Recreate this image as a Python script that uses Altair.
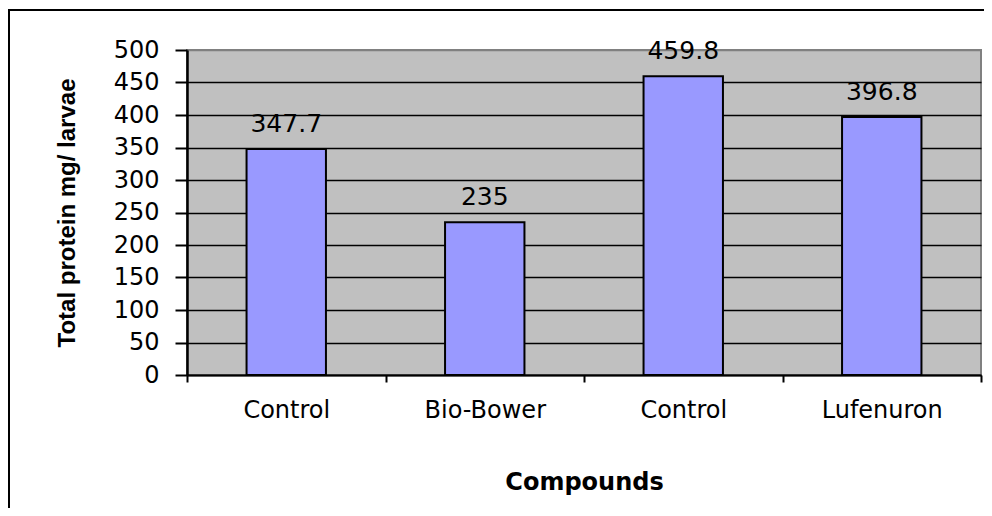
import altair as alt
import pandas as pd

categories = ["Control", "Bio-Bower", "Control", "Lufenuron"]
values = [347.7, 235, 459.8, 396.8]
value_labels = ["347.7", "235", "459.8", "396.8"]
y_ticks = [0, 50, 100, 150, 200, 250, 300, 350, 400, 450, 500]

df = pd.DataFrame({
    "idx": list(range(len(categories))),
    "cat": categories,
    "val": values,
    "lab": value_labels,
})

label_expr = "[" + ",".join("'" + c + "'" for c in categories) + "][datum.value]"

x_enc = alt.X(
    "idx:O",
    scale=alt.Scale(paddingInner=0, paddingOuter=0),
    axis=alt.Axis(
        title="Compounds",
        labelExpr=label_expr,
        labelAngle=0,
        labelFont="DejaVu Sans",
        labelFontSize=24,
        labelColor="black",
        labelPadding=16,
        tickBand="extent",
        tickSize=7,
        tickWidth=2,
        tickColor="black",
        domainColor="black",
        domainWidth=2,
        grid=False,
        titleFont="DejaVu Sans",
        titleFontWeight="bold",
        titleFontSize=24,
        titleColor="black",
        titleX=397,
        titleY=107,
        titleBaseline="middle",
        titleAlign="center",
    ),
)

y_enc = alt.Y(
    "val:Q",
    scale=alt.Scale(domain=[0, 500], nice=False),
    axis=alt.Axis(
        title="Total protein mg/ larvae",
        values=y_ticks,
        labelOverlap=False,
        labelFont="DejaVu Sans",
        labelFontSize=24,
        labelColor="black",
        labelPadding=16,
        tickSize=12,
        tickWidth=2,
        tickColor="black",
        domainColor="black",
        domainWidth=2.5,
        grid=True,
        gridColor=alt.ExprRef("datum.value == 500 ? '#808080' : 'black'"),
        gridWidth=1.5,
        gridOpacity=1,
        titleFont="Liberation Sans",
        titleFontWeight="bold",
        titleFontSize=24,
        titleColor="black",
        titleX=-120,
        titleY=162.5,
        titleAngle=-90,
        titleAlign="center",
        titleBaseline="middle",
    ),
)

base = alt.Chart(df).encode(x=x_enc, y=y_enc)

bars = base.mark_bar(
    width=alt.RelativeBandSize(0.4),
    color="#9999FF",
    stroke="black",
    strokeWidth=2,
)

texts = base.mark_text(
    font="DejaVu Sans",
    fontSize=25,
    color="black",
    baseline="alphabetic",
    dy=-17,
).encode(text="lab:N")

border = alt.Chart(pd.DataFrame({"a": [0]})).mark_rect(
    fill="white", fillOpacity=0, stroke="black", strokeWidth=2, clip=False
).encode(
    x=alt.value(-178), x2=alt.value(900),
    y=alt.value(-40), y2=alt.value(600),
)

chart = alt.layer(border, bars, texts).properties(
    width=794,
    height=325,
    autosize=alt.AutoSizeParams(type="none"),
    padding={"left": 179, "top": 42, "right": 3, "bottom": 133},
    background="white",
).configure_view(
    fill="#C0C0C0", stroke="#808080", strokeWidth=2
)

chart.save("out.html", embed_options={"renderer": "svg", "actions": False})
